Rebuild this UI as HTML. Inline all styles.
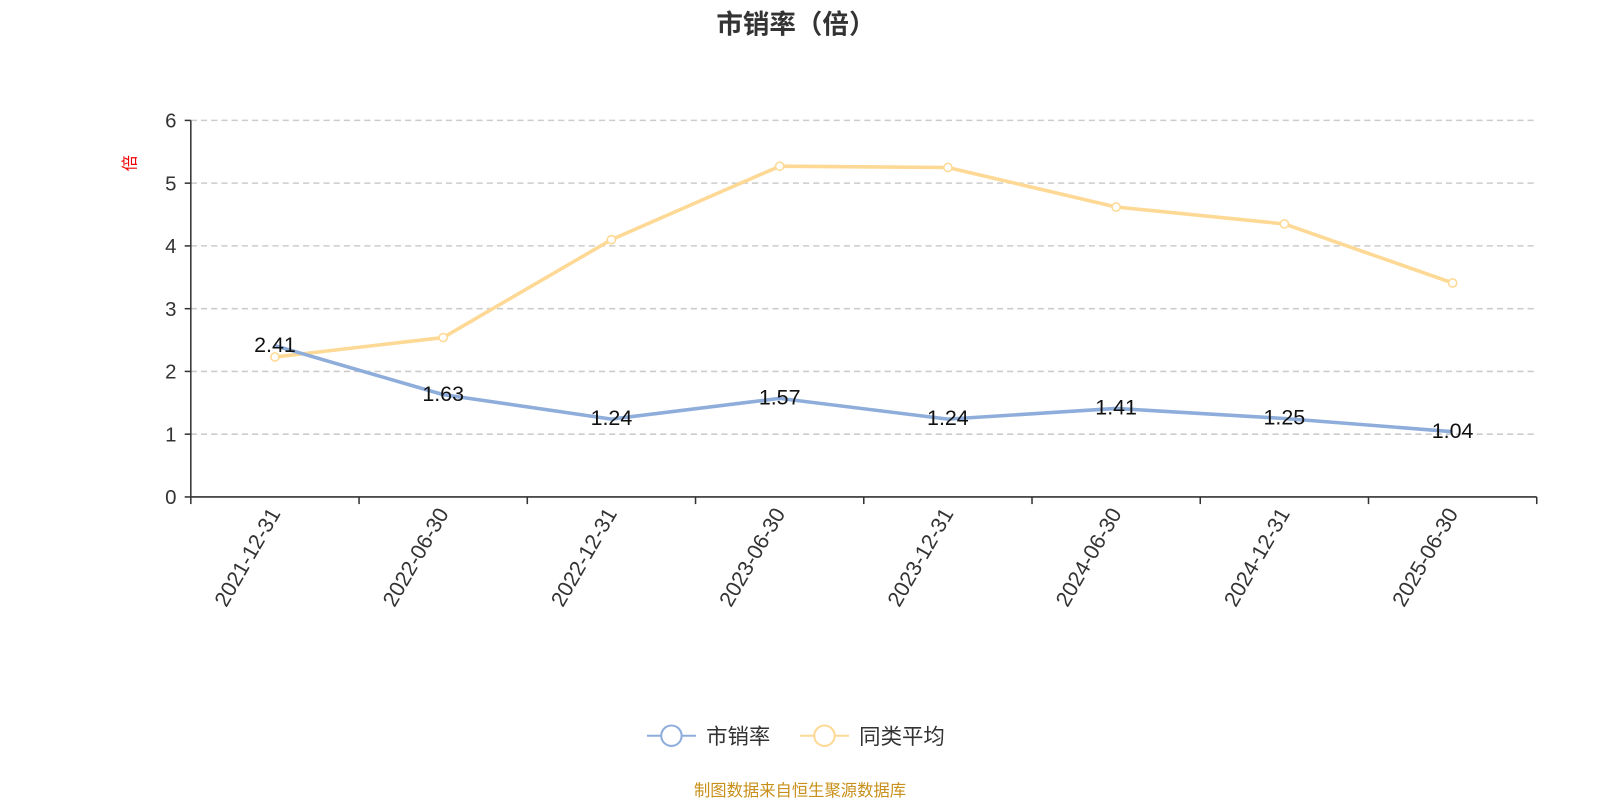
<!DOCTYPE html>
<html><head><meta charset="utf-8"><style>
html,body{margin:0;background:#fff;overflow:hidden;}
svg{display:block;}
svg text{font-family:"Liberation Sans","Noto Sans CJK SC",sans-serif;}
</style></head><body>
<svg width="1600" height="800" viewBox="0 0 1568 784" xmlns="http://www.w3.org/2000/svg">
<text x="780" y="33" text-anchor="middle" font-size="26" font-weight="bold" fill="#333">市销率（倍）</text>
<text transform="translate(133,160) rotate(-90)" text-anchor="middle" font-size="16" fill="#e00">倍</text>
<g id="grid"></g><g id="axes"></g><g id="series"></g>
<g>
<g>
<line x1="634" y1="721" x2="682" y2="721" stroke="#8eaddb" stroke-width="2"/>
<circle cx="658" cy="721" r="10" fill="#fff" stroke="#8eaddb" stroke-width="2"/>
<text x="692" y="729" font-size="21" fill="#333">市销率</text></g>
<g>
<line x1="784" y1="721" x2="832" y2="721" stroke="#fdd995" stroke-width="2"/>
<circle cx="808" cy="721" r="10" fill="#fff" stroke="#fdd995" stroke-width="2"/>
<text x="842" y="729" font-size="21" fill="#333">同类平均</text></g>
</g>
<text x="784" y="780" text-anchor="middle" font-size="16" fill="#c8901a">制图数据来自恒生聚源数据库</text>
</svg>
<script>
const categories=["2021-12-31","2022-06-30","2022-12-31","2023-06-30","2023-12-31","2024-06-30","2024-12-31","2025-06-30"];
const psrValues=[2.41,1.63,1.24,1.57,1.24,1.41,1.25,1.04];
const peerValues=[2.23,2.54,4.1,5.27,5.25,4.62,4.35,3.41];
const yTicks=[0,1,2,3,4,5,6];
const NS="http://www.w3.org/2000/svg";
const L=187,R=1506,T=118,B=487,yMax=6;
const bw=(R-L)/categories.length;
const xs=i=>L+bw*(i+0.5);
const ys=v=>B-(B-T)*v/yMax;
function mk(tag,attrs,parent,text){const e=document.createElementNS(NS,tag);for(const k in attrs)e.setAttribute(k,attrs[k]);if(text!==undefined)e.textContent=text;parent.appendChild(e);return e;}
const grid=document.getElementById('grid'),axes=document.getElementById('axes'),series=document.getElementById('series');
yTicks.forEach(v=>{
  if(v>0){const g=mk('line',{x1:L,x2:R,y1:ys(v),y2:ys(v),stroke:'#ccc','stroke-dasharray':'6,4','stroke-width':1.5},grid);
  
  }
  mk('line',{x1:L-6,x2:L,y1:ys(v),y2:ys(v),stroke:'#333','stroke-width':1.5},axes);
  const t=mk('text',{x:L-14,y:ys(v)+7,'text-anchor':'end','font-size':20,fill:'#333'},axes,String(v));
  
  
});
const ya=mk('line',{x1:L,x2:L,y1:T,y2:B,stroke:'#333','stroke-width':1.5},axes);


const xa=mk('line',{x1:L,x2:R,y1:B,y2:B,stroke:'#333','stroke-width':1.5},axes);


for(let i=0;i<=categories.length;i++)mk('line',{x1:L+bw*i,x2:L+bw*i,y1:B,y2:B+7,stroke:'#333','stroke-width':1.5},axes);
categories.forEach((c,i)=>{
  const t=mk('text',{transform:`translate(${xs(i)+6},${B+16}) rotate(-60)`,'text-anchor':'end','font-size':21,fill:'#333'},axes,c);
  
  
});
function drawLine(vals,color,name,markers,labels){
  const p=mk('polyline',{points:vals.map((v,i)=>xs(i)+','+ys(v)).join(' '),fill:'none',stroke:color,'stroke-width':3.5,'stroke-linejoin':'round'},series);
  
  
  vals.forEach((v,i)=>{
    if(markers){const c=mk('circle',{cx:xs(i),cy:ys(v),r:4,fill:'#fff',stroke:color,'stroke-width':1.5},series);
    
    }
    if(labels){const t=mk('text',{x:xs(i),y:ys(v)+6,'text-anchor':'middle','font-size':21,fill:'#111'},series,v.toFixed(2));
    
    }
  });
}
drawLine(peerValues,'#fdd995','peer-average',true,false);
drawLine(psrValues,'#8eaddb','psr',false,true);
</script>
</body></html>
